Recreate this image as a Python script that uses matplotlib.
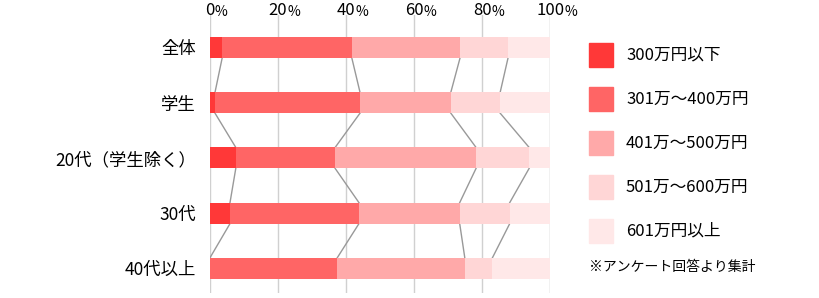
import matplotlib.pyplot as plt
import matplotlib.patches as mpatches
import numpy as np

plt.rcParams['font.family'] = ['Noto Sans CJK JP', 'DejaVu Sans']

categories = ['全体', '学生', '20代（学生除く）', '30代', '40代以上']
series_names = ['300万円以下', '301万〜400万円', '401万〜500万円', '501万〜600万円', '601万円以上']
colors = ['#ff3838', '#ff6565', '#ffa9a9', '#ffd6d6', '#ffe8e8']

# percentages per category, in order of series_names
under300 = [3.6, 1.5, 7.6, 5.9, 0.0]
r301_400 = [38.1, 42.6, 29.2, 37.9, 37.4]
r401_500 = [31.8, 26.7, 41.4, 29.6, 37.5]
r501_600 = [14.1, 14.5, 15.6, 14.7, 8.1]
over601 = [12.4, 14.7, 6.2, 11.9, 17.0]

ticks = [0, 20, 40, 60, 80, 100]
note = '※アンケート回答より集計'

values = np.array([under300, r301_400, r401_500, r501_600, over601])
bar_h = 0.38
y = np.arange(len(categories))

fig = plt.figure(figsize=(8.2, 2.98), dpi=100)
ax = fig.add_axes([0.256, 0.017, 0.415, 0.933])

for x in ticks:
    ax.axvline(x, color='#d0d0d0' if x < 100 else '#b8b8b8', lw=1, zorder=0)

left = np.zeros(len(categories))
for i, name in enumerate(series_names):
    ax.barh(y, values[i], left=left, height=bar_h, color=colors[i], zorder=2)
    left += values[i]

# connector lines between neighbouring bars at segment borders
cum = np.cumsum(values, axis=0)
for k in range(len(series_names) - 1):
    for j in range(len(categories) - 1):
        ax.plot([cum[k, j], cum[k, j + 1]], [y[j] + bar_h / 2, y[j + 1] - bar_h / 2],
                color='#999999', lw=1, zorder=1)

ax.set_xlim(0, 100)
ax.set_ylim(len(categories) - 1 + 0.445, -0.59)
for s in ax.spines.values():
    s.set_visible(False)
ax.set_xticks([])
ax.set_yticks(y)
ax.set_yticklabels(categories, fontsize=12.5)
ax.tick_params(axis='y', length=0, pad=10)

# top tick labels: number with a smaller percent sign
for x in ticks:
    t = ax.text(x, 1.0, str(x), transform=ax.get_xaxis_transform(), ha='center', va='baseline', fontsize=12)
    ax.annotate('%', xy=(1, 0), xycoords=t, ha='left', va='bottom', fontsize=10,
                annotation_clip=False)

# legend
for i, name in enumerate(series_names):
    yy = 298 - 55 - 44 * i
    fig.patches.append(mpatches.Rectangle((589 / 820, (yy - 12) / 298), 24 / 820, 24 / 298,
                                          transform=fig.transFigure, color=colors[i]))
    fig.text(626 / 820, yy / 298, name, fontsize=12, va='center', ha='left')
fig.text(589 / 820, (298 - 267) / 298, note, fontsize=10, va='center', ha='left')

fig.savefig('out.png', dpi=100)
